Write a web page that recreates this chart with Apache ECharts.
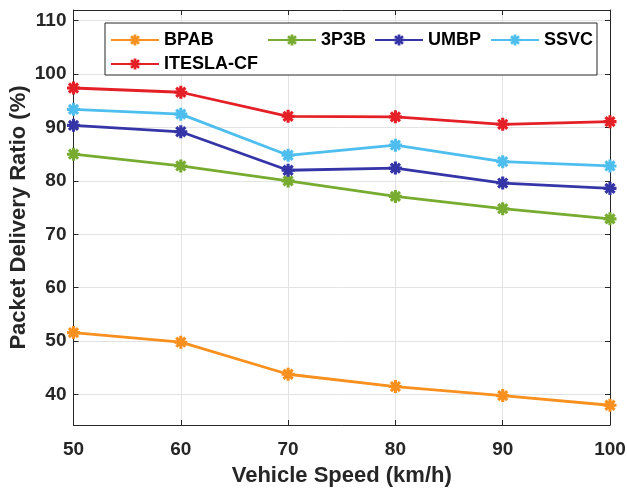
<!DOCTYPE html>
<html>
<head>
<meta charset="utf-8">
<script src="https://cdn.jsdelivr.net/npm/echarts@6/dist/echarts.min.js"></script>
<style>
html,body{margin:0;padding:0;background:#fff;}
#main{width:627px;height:489px;}
</style>
</head>
<body>
<div id="main"></div>
<script>
// speeds (km/h)
var speeds = [50, 60, 70, 80, 90, 100];
// packet delivery ratio (%)
var bpab    = [51.6, 49.8, 43.8, 41.5, 39.8, 38.0];
var p3b     = [85.0, 82.8, 80.0, 77.1, 74.8, 72.9];
var umbp    = [90.4, 89.2, 82.0, 82.4, 79.6, 78.6];
var ssvc    = [93.4, 92.5, 84.8, 86.7, 83.6, 82.8];
var itesla  = [97.4, 96.6, 92.1, 92.0, 90.6, 91.1];
var yTicks  = [40, 50, 60, 70, 80, 90, 100, 110];
var names   = ['BPAB', '3P3B', 'UMBP', 'SSVC', 'ITESLA-CF'];
var colors  = ['#F7901E', '#77AC30', '#3535A8', '#4DBEEE', '#E41F26'];

var FONT = '"Liberation Sans", Arial, sans-serif';
var AX = '#262626';
// asterisk marker
var star = 'path://M-1.2,-5 L1.2,-5 L1.2,5 L-1.2,5 Z M-5,-1.2 L5,-1.2 L5,1.2 L-5,1.2 Z ' +
  'M-2.65,-4.35 L4.35,2.65 L2.65,4.35 L-4.35,-2.65 Z M2.65,-4.35 L4.35,-2.65 L-2.65,4.35 L-4.35,2.65 Z';

function pairs(arr){
  var out = [];
  for (var i = 0; i < speeds.length; i++) out.push([speeds[i], arr[i]]);
  return out;
}
var allData = [bpab, p3b, umbp, ssvc, itesla];

var series = [];
for (var i = 0; i < names.length; i++) {
  series.push({
    name: names[i],
    type: 'line',
    data: pairs(allData[i]),
    symbol: star,
    symbolSize: 13,
    color: colors[i],
    lineStyle: {width: 2.8, color: colors[i]},
    itemStyle: {color: colors[i]},
    z: 5
  });
}

// legend positions (one per item)
var legPos = [[105, 26], [262, 26], [369, 26], [485, 26], [105, 50]];
var legends = [];
for (var j = 0; j < names.length; j++) {
  legends.push({
    data: [names[j]],
    left: legPos[j][0],
    top: legPos[j][1],
    itemWidth: 48,
    itemHeight: 14,
    selectedMode: false,
    textStyle: {fontFamily: FONT, fontWeight: 'bold', fontSize: 18, color: '#000'},
    z: 10
  });
}

var yBase = {
  type: 'value',
  min: 34.3,
  max: 112,
  axisLine: {show: true, lineStyle: {color: AX, width: 1}},
  axisTick: {show: true, inside: true, length: 5, customValues: yTicks, lineStyle: {color: AX}},
  splitLine: {show: false}
};

var option = {
  animation: false,
  grid: {left: 73.5, right: 17, top: 10, bottom: 64, containLabel: false, outerBoundsMode: 'none'},
  legend: legends,
  xAxis: [{
    type: 'value',
    min: 50, max: 100, interval: 10,
    name: 'Vehicle Speed (km/h)',
    nameLocation: 'middle',
    nameGap: 40,
    nameTextStyle: {fontFamily: FONT, fontWeight: 'bold', fontSize: 22, color: AX},
    axisLine: {lineStyle: {color: AX, width: 1}},
    axisTick: {inside: true, length: 5, lineStyle: {color: AX}},
    axisLabel: {fontFamily: FONT, fontWeight: 'bold', fontSize: 19, color: AX, margin: 15},
    splitLine: {show: true, lineStyle: {color: '#e3e3e3', width: 1}}
  }, {
    type: 'value', position: 'top',
    min: 50, max: 100, interval: 10,
    axisLine: {show: true, lineStyle: {color: AX, width: 1}},
    axisTick: {show: true, inside: true, length: 5, lineStyle: {color: AX}},
    axisLabel: {show: false},
    splitLine: {show: false}
  }],
  yAxis: [Object.assign({}, yBase, {
    name: 'Packet Delivery Ratio (%)',
    nameLocation: 'middle',
    nameGap: 44,
    nameMoveOverlap: false,
    nameTextStyle: {fontFamily: FONT, fontWeight: 'bold', fontSize: 22, color: AX},
    axisLabel: {customValues: yTicks, fontFamily: FONT, fontWeight: 'bold', fontSize: 19, color: AX, margin: 7},
    splitLine: {show: true, lineStyle: {color: '#e3e3e3', width: 1}}
  }), Object.assign({}, yBase, {
    position: 'right',
    axisLabel: {show: false}
  })],
  graphic: [{
    type: 'rect',
    shape: {x: 105, y: 23, width: 492, height: 52},
    style: {fill: '#fff', stroke: AX, lineWidth: 1},
    z: 8
  }],
  series: series
};

var chart = echarts.init(document.getElementById('main'));
chart.setOption(option);
</script>
</body>
</html>
